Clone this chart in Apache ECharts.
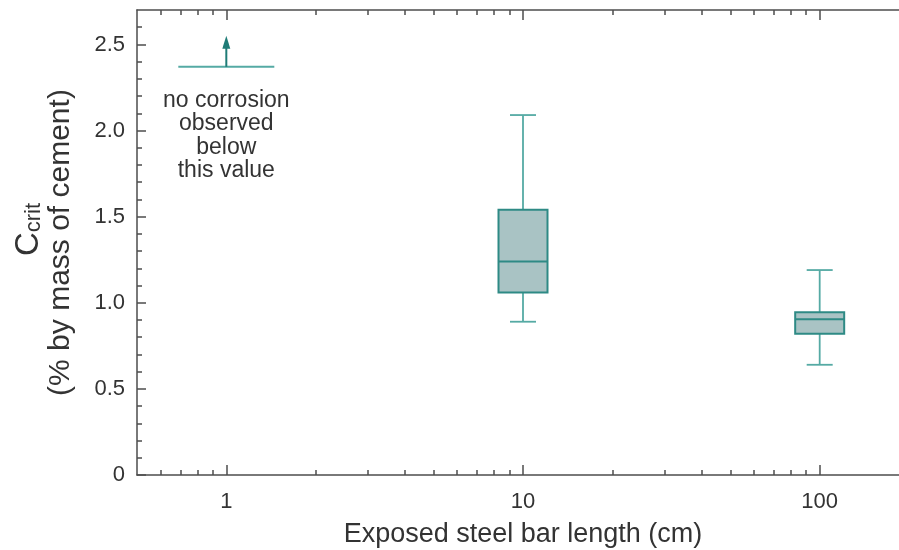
<!DOCTYPE html>
<html>
<head>
<meta charset="utf-8">
<style>
  html, body { margin: 0; padding: 0; background: #fff; }
  #chart { width: 899px; height: 550px; }
</style>
<script src="https://cdn.jsdelivr.net/npm/echarts@6/dist/echarts.min.js"></script>
</head>
<body>
<div id="chart"></div>
<script>
// Exposed bar lengths (cm) on the log axis
const lengths = [10, 100];
// Box statistics of C_crit (% by mass of cement): [min, Q1, median, Q3, max]
const whiskerLow = [0.89, 0.64];
const quartile1 = [1.06, 0.82];
const medians = [1.24, 0.905];
const quartile3 = [1.54, 0.945];
const whiskerHigh = [2.09, 1.19];

// Lower bound for the 1 cm bar: no corrosion observed below this value
const boundLength = [1];
const boundValue = [2.37];
const boundNote = ['no corrosion', 'observed', 'below', 'this value'];

// Axis ticks
const xMajorTicks = [1, 10, 100];
const xMinorTicks = [0.6, 0.7, 0.8, 0.9, 2, 3, 4, 5, 6, 7, 8, 9, 20, 30, 40, 50, 60, 70, 80, 90];
const yMajorTicks = [0, 0.5, 1.0, 1.5, 2.0, 2.5];
const yMinorTicks = [0.1, 0.2, 0.3, 0.4, 0.6, 0.7, 0.8, 0.9, 1.1, 1.2, 1.3, 1.4, 1.6, 1.7, 1.8, 1.9, 2.1, 2.2, 2.3, 2.4, 2.6];

const TEXT = '#333333';
const AXIS = '#4d4d4d';
const FONT = '"Liberation Sans", Arial, Helvetica, sans-serif';
const BOX_FILL = '#a9c3c4';
const BOX_EDGE = '#2e8a85';
const WHISKER = '#55aaa4';
const ARROW = '#1f7c77';

const boxData = lengths.map((x, i) => [x, whiskerLow[i], quartile1[i], medians[i], quartile3[i], whiskerHigh[i]]);

function logX(extra) {
  return Object.assign({
    type: 'log', logBase: 10, min: 0.5, max: 200, gridIndex: 0,
    splitLine: { show: false }, minorTick: { show: false }
  }, extra);
}
function linY(extra) {
  return Object.assign({
    type: 'value', min: 0, max: 2.7, gridIndex: 0,
    splitLine: { show: false }
  }, extra);
}
const lineOff = { show: false, onZero: false };
const lineOn = { show: true, onZero: false, lineStyle: { color: AXIS, width: 1.5 } };

const chart = echarts.init(document.getElementById('chart'), null, { renderer: 'canvas' });
chart.setOption({
  animation: false,
  backgroundColor: '#ffffff',
  textStyle: { fontFamily: FONT },
  // the plot runs on to 200 cm, just past the right edge of the canvas
  grid: { left: 137, top: 10, width: 772, height: 465, containLabel: false, outerBoundsMode: 'none' },
  xAxis: [
    logX({
      position: 'bottom',
      name: 'Exposed steel bar length (cm)',
      nameLocation: 'middle', nameGap: 46,
      nameTextStyle: { color: TEXT, fontSize: 27, fontFamily: FONT },
      axisLine: lineOn,
      axisTick: { show: true, inside: true, length: 10, customValues: xMajorTicks, lineStyle: { color: AXIS, width: 1.5 } },
      axisLabel: { show: true, customValues: xMajorTicks, margin: 16, color: TEXT, fontSize: 22, fontFamily: FONT,
        formatter: v => String(Math.round(v)) }
    }),
    logX({
      position: 'bottom',
      axisLine: lineOff,
      axisTick: { show: true, inside: true, length: 5, customValues: xMinorTicks, lineStyle: { color: AXIS, width: 1.5 } },
      axisLabel: { show: false }
    }),
    logX({
      position: 'top',
      axisLine: lineOn,
      axisTick: { show: true, inside: true, length: 10, customValues: xMajorTicks, lineStyle: { color: AXIS, width: 1.5 } },
      axisLabel: { show: false }
    }),
    logX({
      position: 'top',
      axisLine: lineOff,
      axisTick: { show: true, inside: true, length: 5, customValues: xMinorTicks, lineStyle: { color: AXIS, width: 1.5 } },
      axisLabel: { show: false }
    })
  ],
  yAxis: [
    linY({
      position: 'left',
      name: '{c|C}{s|crit}\n{p|(% by mass of cement)}',
      nameLocation: 'middle', nameGap: 60, nameRotate: 90,
      nameTextStyle: {
        color: TEXT, fontFamily: FONT, lineHeight: 34,
        rich: {
          c: { fontSize: 33, color: TEXT, fontFamily: FONT, lineHeight: 34, verticalAlign: 'bottom', padding: [0, 0, 0, 26] },
          s: { fontSize: 22, color: TEXT, fontFamily: FONT, lineHeight: 34, verticalAlign: 'bottom', padding: [10, 0, 0, 0] },
          p: { fontSize: 30, color: TEXT, fontFamily: FONT, lineHeight: 32 }
        }
      },
      axisLine: lineOn,
      axisTick: { show: true, inside: true, length: 9, customValues: yMajorTicks, lineStyle: { color: AXIS, width: 1.5 } },
      axisLabel: { show: true, customValues: yMajorTicks, margin: 12, color: TEXT, fontSize: 22, fontFamily: FONT,
        formatter: v => (v === 0 ? '0' : v.toFixed(1)) }
    }),
    linY({
      position: 'left',
      axisLine: lineOff,
      axisTick: { show: true, inside: true, length: 5, customValues: yMinorTicks, lineStyle: { color: AXIS, width: 1.5 } },
      axisLabel: { show: false }
    }),
    linY({
      position: 'right',
      axisLine: lineOn,
      axisTick: { show: false },
      axisLabel: { show: false }
    })
  ],
  series: [
    {
      type: 'custom',
      name: 'C_crit',
      xAxisIndex: 0, yAxisIndex: 0,
      data: boxData,
      renderItem: function (params, api) {
        const x = api.value(0);
        const lo = api.coord([x, api.value(1)]);
        const q1 = api.coord([x, api.value(2)]);
        const md = api.coord([x, api.value(3)]);
        const q3 = api.coord([x, api.value(4)]);
        const hi = api.coord([x, api.value(5)]);
        const cx = lo[0];
        const half = 24.5, cap = 13;
        const wStyle = { stroke: WHISKER, lineWidth: 1.8, fill: null };
        return {
          type: 'group',
          children: [
            { type: 'line', shape: { x1: cx, y1: hi[1], x2: cx, y2: q3[1] }, style: wStyle },
            { type: 'line', shape: { x1: cx - cap, y1: hi[1], x2: cx + cap, y2: hi[1] }, style: wStyle },
            { type: 'line', shape: { x1: cx, y1: q1[1], x2: cx, y2: lo[1] }, style: wStyle },
            { type: 'line', shape: { x1: cx - cap, y1: lo[1], x2: cx + cap, y2: lo[1] }, style: wStyle },
            { type: 'rect', shape: { x: cx - half, y: q3[1], width: half * 2, height: q1[1] - q3[1] },
              style: { fill: BOX_FILL, stroke: BOX_EDGE, lineWidth: 2 } },
            { type: 'line', shape: { x1: cx - half, y1: md[1], x2: cx + half, y2: md[1] },
              style: { stroke: BOX_EDGE, lineWidth: 2 } }
          ]
        };
      }
    },
    {
      type: 'custom',
      name: 'lower bound',
      xAxisIndex: 0, yAxisIndex: 0,
      data: boundLength.map((x, i) => [x, boundValue[i]]),
      renderItem: function (params, api) {
        const p = api.coord([api.value(0), api.value(1)]);
        const cx = p[0], cy = p[1];
        return {
          type: 'group',
          children: [
            { type: 'line', shape: { x1: cx - 48, y1: cy, x2: cx + 48, y2: cy },
              style: { stroke: WHISKER, lineWidth: 2 } },
            { type: 'line', shape: { x1: cx, y1: cy, x2: cx, y2: cy - 20 },
              style: { stroke: ARROW, lineWidth: 2 } },
            { type: 'polygon', shape: { points: [[cx - 4, cy - 18], [cx + 4, cy - 18], [cx, cy - 31]] },
              style: { fill: ARROW } },
            { type: 'text', x: cx, y: cy + 22,
              style: { text: boundNote.join('\n'), fill: TEXT, font: '23px ' + FONT,
                align: 'center', verticalAlign: 'top', lineHeight: 23.5 } }
          ]
        };
      }
    }
  ]
});
</script>
</body>
</html>
